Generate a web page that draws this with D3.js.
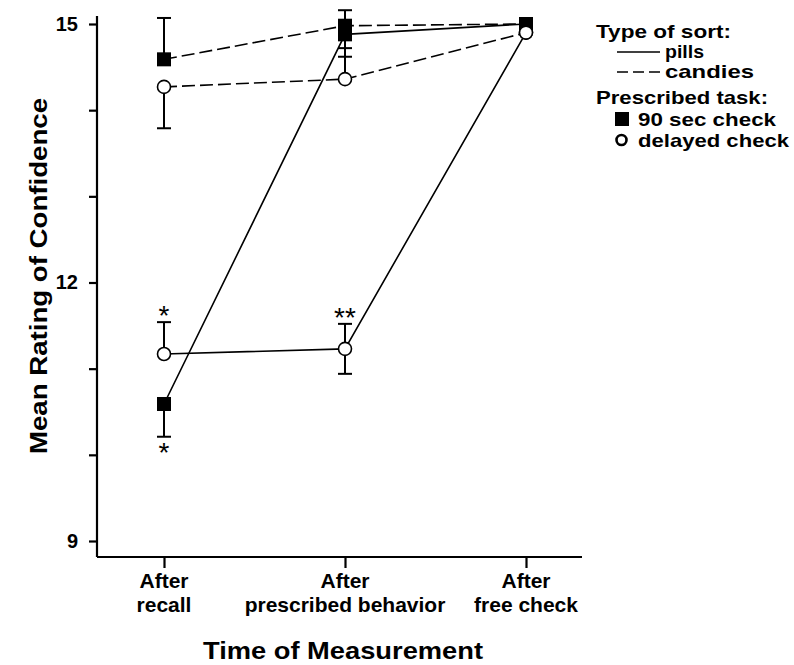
<!DOCTYPE html>
<html>
<head>
<meta charset="utf-8">
<script src="https://cdn.jsdelivr.net/npm/d3@7"></script>
<style>
body { margin: 0; background: #fff; }
text { font-family: "Liberation Sans", Arial, sans-serif; }
</style>
</head>
<body>
<div id="chart-area"></div>
<script>
// categories on the x axis (two lines each)
var times = ["After|recall", "After|prescribed behavior", "After|free check"];

// means for each series
var pills90 = [10.59, 14.88, 15.0];
var pillsDelayed = [11.17, 11.23, 14.9];
var candies90 = [14.59, 14.98, 15.0];
var candiesDelayed = [14.27, 14.36, 14.9];

// error bar ends (null = not drawn)
var pills90Err = [10.21, 14.62, null];
var pillsDelayedErr = [11.54, null, null];
var pillsDelayedErr2 = [null, 11.52, null];
var pillsDelayedErr3 = [null, 10.94, null];
var candies90Err = [15.07, 15.16, null];
var candiesDelayedErr = [13.79, 14.72, null];

var yTicks = [9, 12, 15];
var yMinor = [10, 11, 13, 14];

var margin = { left: 97, right: 212, top: 24, bottom: 107 };
var width = 794 - margin.left - margin.right,
    height = 665 - margin.top - margin.bottom;

var svg = d3.select("#chart-area")
    .append("svg")
        .attr("width", 794)
        .attr("height", 665);

var g = svg.append("g")
    .attr("transform", "translate(" + margin.left + ", " + margin.top + ")");

var x = d3.scalePoint()
    .domain(times)
    .range([67, 429]);

var y = d3.scaleLinear()
    .domain([9, 15])
    .range([517, 0]);

var axisY = 533;

// Y axis
var yAxisCall = d3.axisLeft(y)
    .tickValues(yTicks)
    .tickFormat(d3.format("d"))
    .tickSize(8)
    .tickPadding(11);
var yAxisGroup = g.append("g").call(yAxisCall);
yAxisGroup.select(".domain").attr("d", "M0,-8V" + axisY);

g.append("g").call(d3.axisLeft(y).tickValues(yMinor).tickSize(8).tickFormat(""))
    .select(".domain").remove();

// X axis
var xAxisCall = d3.axisBottom(x).tickSize(11).tickFormat("");
var xAxisGroup = g.append("g")
    .attr("transform", "translate(0," + axisY + ")")
    .call(xAxisCall);
xAxisGroup.select(".domain").attr("d", "M0,0H" + width);

g.selectAll(".domain, .tick line").attr("stroke", "#000").attr("stroke-width", 2.2);
yAxisGroup.selectAll(".tick text")
    .attr("font-size", "20px")
    .attr("font-weight", "bold")
    .attr("fill", "#000")
    .attr("font-family", "Liberation Sans, Arial, sans-serif");

// x labels in two lines
times.forEach(function(t) {
    var parts = t.split("|");
    var lbl = g.append("text")
        .attr("x", x(t))
        .attr("y", 588 - margin.top)
        .attr("text-anchor", "middle")
        .attr("font-size", "21px")
        .attr("font-weight", "bold");
    lbl.append("tspan").attr("x", x(t)).text(parts[0]);
    lbl.append("tspan").attr("x", x(t)).attr("dy", 24).text(parts[1]);
});

// X Label
g.append("text")
    .attr("x", 343 - margin.left)
    .attr("y", 659 - margin.top)
    .attr("font-size", "24px")
    .attr("font-weight", "bold")
    .attr("text-anchor", "middle")
    .attr("textLength", 280)
    .attr("lengthAdjust", "spacingAndGlyphs")
    .text("Time of Measurement");

// Y Label
g.append("text")
    .attr("y", 47 - margin.left)
    .attr("x", -(276 - margin.top))
    .attr("font-size", "24px")
    .attr("font-weight", "bold")
    .attr("text-anchor", "middle")
    .attr("textLength", 356)
    .attr("lengthAdjust", "spacingAndGlyphs")
    .attr("transform", "rotate(-90)")
    .text("Mean Rating of Confidence");

var series = [
    { vals: pills90, dash: null, shape: "square" },
    { vals: pillsDelayed, dash: null, shape: "circle" },
    { vals: candies90, dash: "13,5", shape: "square" },
    { vals: candiesDelayed, dash: "13,5", shape: "circle" }
];
var errs = [pills90Err, pillsDelayedErr, pillsDelayedErr2, pillsDelayedErr3, candies90Err, candiesDelayedErr];
var errBase = [pills90, pillsDelayed, pillsDelayed, pillsDelayed, candies90, candiesDelayed];

// error bars
errs.forEach(function(e, k) {
    e.forEach(function(v, i) {
        if (v === null) return;
        var cx = x(times[i]);
        g.append("line")
            .attr("x1", cx).attr("x2", cx)
            .attr("y1", y(errBase[k][i])).attr("y2", y(v))
            .attr("stroke", "#000").attr("stroke-width", 2);
        g.append("line")
            .attr("x1", cx - 7).attr("x2", cx + 7)
            .attr("y1", y(v)).attr("y2", y(v))
            .attr("stroke", "#000").attr("stroke-width", 2);
    });
});

var line = d3.line()
    .x(function(d, i) { return x(times[i]); })
    .y(function(d) { return y(d); });

series.forEach(function(s) {
    g.append("path")
        .datum(s.vals)
        .attr("d", line)
        .attr("fill", "none")
        .attr("stroke", "#000")
        .attr("stroke-width", 1.6)
        .attr("stroke-dasharray", s.dash);
});

// markers
series.forEach(function(s) {
    s.vals.forEach(function(v, i) {
        if (s.shape === "square") {
            g.append("rect")
                .attr("x", x(times[i]) - 7).attr("y", y(v) - 7)
                .attr("width", 14).attr("height", 14)
                .attr("fill", "#000");
        } else {
            g.append("circle")
                .attr("cx", x(times[i])).attr("cy", y(v))
                .attr("r", 6.5)
                .attr("fill", "#fff").attr("stroke", "#000").attr("stroke-width", 1.6);
        }
    });
});

// significance marks
var stars = [
    { t: 0, v: pills90Err[0], txt: "*", dy: 25 },
    { t: 0, v: pillsDelayedErr[0], txt: "*", dy: 3 },
    { t: 1, v: pillsDelayedErr2[1], txt: "**", dy: 3 }
];
stars.forEach(function(s) {
    g.append("text")
        .attr("x", x(times[s.t]))
        .attr("y", y(s.v) + s.dy)
        .attr("text-anchor", "middle")
        .attr("font-family", "Liberation Serif, Times New Roman, serif")
        .attr("font-size", "28px")
        .text(s.txt);
});

// Legend
var leg = svg.append("g").attr("transform", "translate(596,0)");
var legText = [
    ["Type of sort:", 0, 38, 135],
    ["pills", 69, 58, 39],
    ["candies", 69, 78, 89],
    ["Prescribed task:", 0, 104, 172],
    ["90 sec check", 42, 126, 138],
    ["delayed check", 42, 147, 151]
];
legText.forEach(function(l) {
    leg.append("text")
        .attr("x", l[1]).attr("y", l[2])
        .attr("font-size", "19px")
        .attr("font-weight", "bold")
        .attr("textLength", l[3])
        .attr("lengthAdjust", "spacingAndGlyphs")
        .text(l[0]);
});
leg.append("line").attr("x1", 21).attr("x2", 64).attr("y1", 52).attr("y2", 52)
    .attr("stroke", "#000").attr("stroke-width", 1.6);
leg.append("line").attr("x1", 21).attr("x2", 64).attr("y1", 72).attr("y2", 72)
    .attr("stroke", "#000").attr("stroke-width", 1.6).attr("stroke-dasharray", "11,5");
leg.append("rect").attr("x", 19).attr("y", 112).attr("width", 14).attr("height", 14).attr("fill", "#000");
leg.append("circle").attr("cx", 25.5).attr("cy", 140).attr("r", 5)
    .attr("fill", "#fff").attr("stroke", "#000").attr("stroke-width", 2.6);
</script>
</body>
</html>
